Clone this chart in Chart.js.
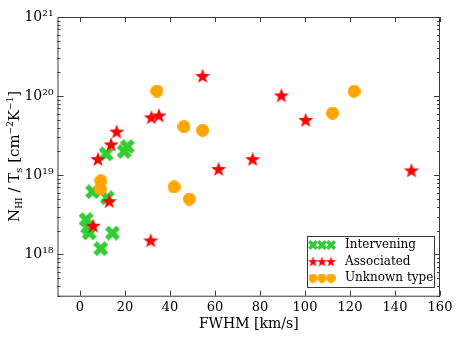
<!DOCTYPE html>
<html>
<head>
<meta charset="utf-8">
<script src="https://cdn.jsdelivr.net/npm/chart.js@4.4.1/dist/chart.umd.min.js"></script>
<style>
    html, body { margin: 0; padding: 0; background: #fff; }
    canvas { display: block; }
</style>
</head>
<body>
<canvas id="nhiChart" width="463" height="348"></canvas>
<script>
// chart values
const seriesNames = ['Intervening', 'Associated', 'Unknown type'];

const fwhmIntervening = [11.6, 19.6, 21.0, 5.6, 12.1, 2.7, 3.5, 4.1, 14.4, 9.2];
const nhiIntervening = [1.86e19, 2.0e19, 2.3e19, 6.2e18, 5.2e18, 2.75e18, 2.2e18, 1.87e18, 1.86e18, 1.18e18];

const fwhmAssociated = [8.0, 13.8, 16.3, 31.7, 35.1, 13.0, 5.9, 31.4, 54.5, 89.5, 100.3, 61.6, 76.7, 147.3];
const nhiAssociated = [1.6e19, 2.45e19, 3.56e19, 5.4e19, 5.7e19, 4.7e18, 2.3e18, 1.5e18, 1.8e20, 1.02e20, 5.0e19, 1.2e19, 1.6e19, 1.15e19];

const fwhmUnknown = [34.2, 46.2, 54.5, 112.3, 121.8, 41.8, 48.6, 9.3, 9.0];
const nhiUnknown = [1.16e20, 4.1e19, 3.7e19, 6.1e19, 1.15e20, 7.1e18, 5.0e18, 8.5e18, 6.7e18];

const xTicks = [0, 20, 40, 60, 80, 100, 120, 140, 160];
const yTicks = [1e18, 1e19, 1e20, 1e21];
const yTickLabels = ['10¹⁸', '10¹⁹', '10²⁰', '10²¹'];

const FONT = '"DejaVu Serif", serif';
const FRAME = '#3a3a3a';

function toPoints(xs, ys) {
    return xs.map((x, i) => ({ x: x, y: ys[i] }));
}

// filled "X" marker
function makeCross(size, color) {
    const c = document.createElement('canvas');
    c.width = size; c.height = size;
    const g = c.getContext('2d');
    const s = size / 2, t = size * 0.25;
    g.translate(s, s);
    g.beginPath();
    const pts = [[-s, -s + t], [-s + t, -s], [0, -t], [s - t, -s], [s, -s + t], [t, 0],
                 [s, s - t], [s - t, s], [0, t], [-s + t, s], [-s, s - t], [-t, 0]];
    pts.forEach((p, i) => i ? g.lineTo(p[0], p[1]) : g.moveTo(p[0], p[1]));
    g.closePath();
    g.fillStyle = color;
    g.fill();
    return c;
}

// filled five point star
function makeStar(size, color) {
    const c = document.createElement('canvas');
    c.width = size; c.height = size;
    const g = c.getContext('2d');
    const r = size / 2, ri = r * 0.40;
    g.translate(r, r + r * 0.08);
    g.beginPath();
    for (let i = 0; i < 10; i++) {
        const a = -Math.PI / 2 + i * Math.PI / 5;
        const rr = i % 2 ? ri : r;
        const px = rr * Math.cos(a), py = rr * Math.sin(a);
        i ? g.lineTo(px, py) : g.moveTo(px, py);
    }
    g.closePath();
    g.fillStyle = color;
    g.fill();
    return c;
}

function makeDot(size, color) {
    const c = document.createElement('canvas');
    c.width = size; c.height = size;
    const g = c.getContext('2d');
    g.beginPath();
    g.arc(size / 2, size / 2, size / 2, 0, Math.PI * 2);
    g.fillStyle = color;
    g.fill();
    return c;
}

const green = '#32cd32', red = '#ff0000', orange = '#ffa500';
const markers = [makeCross(15, green), makeStar(16, red), makeDot(13, orange)];
const legendMarkers = [makeCross(10, green), makeStar(11, red), makeDot(9, orange)];

// frame, inward ticks, y title and legend
const framePlugin = {
    id: 'frame',
    afterDatasetsDraw(chart) {
        const ctx = chart.ctx;
        const a = chart.chartArea;
        const xs = chart.scales.x, ys = chart.scales.y;
        ctx.save();
        ctx.strokeStyle = FRAME;
        ctx.lineWidth = 1;
        ctx.strokeRect(a.left + 0.5, a.top + 0.5, a.right - a.left - 1, a.bottom - a.top);

        ctx.beginPath();
        xTicks.forEach(v => {
            const px = Math.round(xs.getPixelForValue(v)) + 0.5;
            ctx.moveTo(px, a.bottom); ctx.lineTo(px, a.bottom - 5);
            ctx.moveTo(px, a.top); ctx.lineTo(px, a.top + 5);
        });
        for (let e = 17; e <= 20; e++) {
            for (let m = 1; m <= 9; m++) {
                const v = m * Math.pow(10, e);
                if (v < ys.min || v > ys.max) continue;
                const py = Math.round(ys.getPixelForValue(v)) + 0.5;
                const len = m === 1 ? 6 : 3;
                ctx.moveTo(a.left, py); ctx.lineTo(a.left + len, py);
                ctx.moveTo(a.right, py); ctx.lineTo(a.right - len, py);
            }
        }
        ctx.stroke();
        ctx.restore();
    },
    afterDraw(chart) {
        const ctx = chart.ctx;
        const a = chart.chartArea;
        ctx.save();

        // y axis title with sub/superscripts
        const parts = [
            { t: 'N', size: 15, dy: 0 },
            { t: 'HI', size: 9, dy: 3 },
            { t: ' / T', size: 15, dy: 0 },
            { t: 's', size: 10, dy: 3 },
            { t: ' [cm', size: 15, dy: 0 },
            { t: '−2', size: 9, dy: -6 },
            { t: 'K', size: 15, dy: 0 },
            { t: '−1', size: 9, dy: -6 },
            { t: ']', size: 15, dy: 0 }
        ];
        let total = 0;
        parts.forEach(p => {
            ctx.font = p.size + 'px ' + FONT;
            p.w = ctx.measureText(p.t).width;
            total += p.w;
        });
        ctx.translate(19, (a.top + a.bottom) / 2);
        ctx.rotate(-Math.PI / 2);
        ctx.fillStyle = '#000';
        ctx.textBaseline = 'alphabetic';
        let cx = -total / 2;
        parts.forEach(p => {
            ctx.font = p.size + 'px ' + FONT;
            ctx.fillText(p.t, cx, p.dy);
            cx += p.w;
        });
        ctx.restore();

        // legend box, three markers per entry
        ctx.save();
        const bx = 307.5, by = 236.5, bw = 127, bh = 51;
        ctx.fillStyle = '#fff';
        ctx.fillRect(bx, by, bw, bh);
        ctx.strokeStyle = FRAME;
        ctx.strokeRect(bx, by, bw, bh);
        ctx.font = '12px ' + FONT;
        ctx.fillStyle = '#000';
        ctx.textBaseline = 'middle';
        seriesNames.forEach((name, i) => {
            const ry = 245 + i * 16.5;
            const img = legendMarkers[i];
            [313, 322, 331].forEach(mx => {
                ctx.drawImage(img, mx - img.width / 2, ry - img.height / 2);
            });
            ctx.fillText(name, 345, ry);
        });
        ctx.restore();
    }
};

function initNhiChart() {
    const ctx = document.getElementById('nhiChart').getContext('2d');

    new Chart(ctx, {
        type: 'scatter',
        data: {
            datasets: [
                {
                    label: seriesNames[0],
                    data: toPoints(fwhmIntervening, nhiIntervening),
                    pointStyle: markers[0],
                    order: 3
                },
                {
                    label: seriesNames[1],
                    data: toPoints(fwhmAssociated, nhiAssociated),
                    pointStyle: markers[1],
                    order: 2
                },
                {
                    label: seriesNames[2],
                    data: toPoints(fwhmUnknown, nhiUnknown),
                    pointStyle: markers[2],
                    order: 1
                }
            ]
        },
        options: {
            responsive: false,
            animation: false,
            devicePixelRatio: 1,
            layout: { padding: { top: 17, right: 23, left: 0, bottom: 0 } },
            plugins: {
                legend: { display: false },
                tooltip: { enabled: false }
            },
            scales: {
                x: {
                    type: 'linear',
                    min: -10,
                    max: 160,
                    afterBuildTicks: s => { s.ticks = xTicks.map(v => ({ value: v })); },
                    afterFit: s => { s.height = 52.3; },
                    grid: { display: false, drawTicks: false },
                    border: { display: false },
                    ticks: {
                        color: '#000',
                        font: { family: FONT, size: 13 },
                        padding: 4,
                        maxRotation: 0
                    },
                    title: {
                        display: true,
                        text: 'FWHM [km/s]',
                        color: '#000',
                        font: { family: FONT, size: 14 },
                        padding: { top: 0, bottom: 15 }
                    }
                },
                y: {
                    type: 'logarithmic',
                    min: 3e17,
                    max: 1e21,
                    afterBuildTicks: s => { s.ticks = yTicks.map(v => ({ value: v })); },
                    afterFit: s => { s.width = 57.5; },
                    grid: { display: false, drawTicks: false },
                    border: { display: false },
                    ticks: {
                        color: '#000',
                        font: { family: FONT, size: 14 },
                        padding: 4,
                        callback: (v) => {
                            const i = yTicks.indexOf(v);
                            return i >= 0 ? yTickLabels[i] : '';
                        }
                    }
                }
            }
        },
        plugins: [framePlugin]
    });
}

initNhiChart();
</script>
</body>
</html>
